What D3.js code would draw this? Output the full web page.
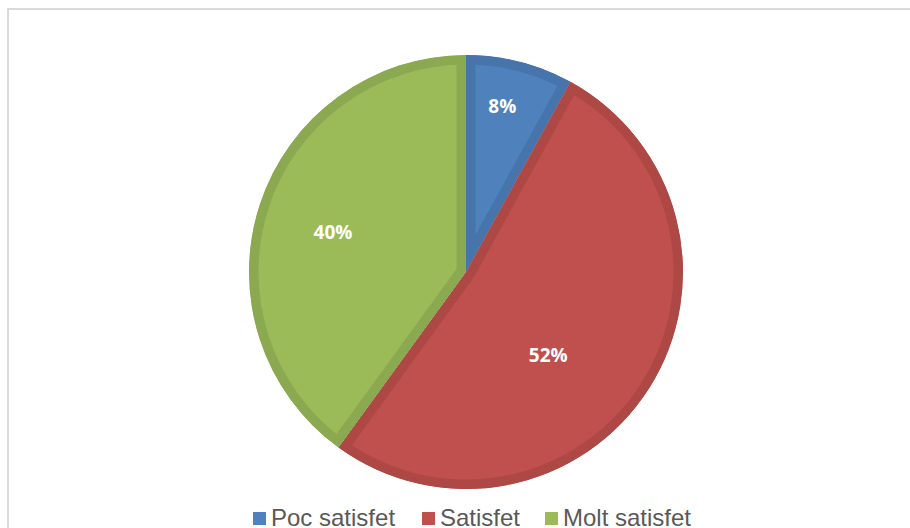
<!DOCTYPE html>
<html>
<head>
<meta charset="utf-8">
<script src="https://cdn.jsdelivr.net/npm/d3@7/dist/d3.min.js"></script>
<style>
    body { margin: 0; background: #fff; }
    .label { font-family: "Open Sans", sans-serif; font-weight: bold; font-size: 19px; fill: #fff; }
    .legend text { font-family: "Liberation Sans", Arial, sans-serif; font-size: 24px; fill: #595959; }
</style>
</head>
<body>
<svg width="910" height="528"></svg>
<script>
    // satisfaction levels and their share (%)
    var categories = ["Poc satisfet", "Satisfet", "Molt satisfet"];
    var values = [8, 52, 40];
    var fills = ["#4f81bd", "#c0504d", "#9bbb59"];
    var edges = ["#4674ab", "#ae4845", "#8ba951"];

    var svg = d3.select("svg");

    // chart frame
    svg.append("path")
        .attr("d", "M8,528V9H910")
        .attr("fill", "none")
        .attr("stroke", "#d9d9d9")
        .attr("stroke-width", 2);

    var cx = 466, cy = 272, r = 217;
    // label placement: distance as a fraction of the radius, and a turn (deg) off the slice middle
    var labelPos = [[0.78, -2], [0.54, 13], [0.64, -1.3]];

    var pie = d3.pie().sort(null).value(function(d) { return d; });
    var arcs = pie(values);
    var arc = d3.arc().innerRadius(0).outerRadius(r);

    var g = svg.append("g").attr("transform", "translate(" + cx + "," + cy + ")");
    var defs = svg.append("defs");

    arcs.forEach(function(d, i) {
        defs.append("clipPath").attr("id", "clip" + i)
            .append("path").attr("d", arc(d));
    });

    g.selectAll(".slice")
        .data(arcs)
        .enter().append("path")
        .attr("class", "slice")
        .attr("d", arc)
        .attr("fill", function(d, i) { return fills[i]; })
        .attr("stroke", function(d, i) { return edges[i]; })
        .attr("stroke-width", 19)
        .attr("stroke-linejoin", "miter")
        .attr("clip-path", function(d, i) { return "url(#clip" + i + ")"; });

    g.selectAll(".label")
        .data(arcs)
        .enter().append("text")
        .attr("class", "label")
        .attr("text-anchor", "middle")
        .attr("dy", "0.35em")
        .attr("transform", function(d, i) {
            var a = (d.startAngle + d.endAngle) / 2 + labelPos[i][1] * Math.PI / 180,
                k = r * labelPos[i][0];
            return "translate(" + (Math.sin(a) * k) + "," + (-Math.cos(a) * k) + ")";
        })
        .text(function(d) { return d.value + "%"; });

    // legend along the bottom
    var legend = svg.append("g").attr("class", "legend");
    var lx = [253, 422, 545];
    categories.forEach(function(c, i) {
        legend.append("rect")
            .attr("x", lx[i]).attr("y", 512)
            .attr("width", 13).attr("height", 13)
            .attr("fill", fills[i]);
        legend.append("text")
            .attr("x", lx[i] + 18).attr("y", 526)
            .text(c);
    });
</script>
</body>
</html>
